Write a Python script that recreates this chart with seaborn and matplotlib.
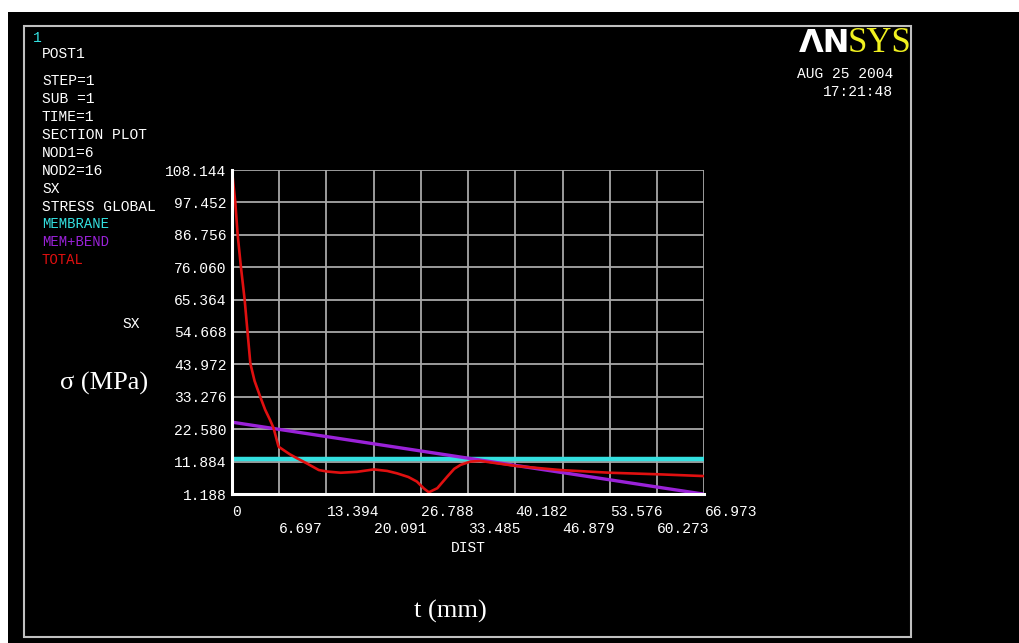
import numpy as np
import pandas as pd
import matplotlib
matplotlib.use("Agg")
import matplotlib.pyplot as plt
import seaborn as sns
from matplotlib.patches import Rectangle

# --- data ---
dist_ticks = [0, 6.697, 13.394, 20.091, 26.788, 33.485, 40.182, 46.879, 53.576, 60.273, 66.973]
sx_ticks = [1.188, 11.884, 22.580, 33.276, 43.972, 54.668, 65.364, 76.060, 86.756, 97.452, 108.144]

membrane_dist = [0, 66.973]
membrane_sx = [12.9, 12.9]

bend_dist = [0, 66.973]
bend_sx = [24.9, 1.1]

total_dist = [0, 0.47, 0.8, 1.27, 1.79, 2.2, 2.6, 3.2, 4.0, 4.7, 5.4, 5.9, 6.6, 7.3, 8.2,
              9.2, 10.6, 12.3, 13.5, 15.4, 17.7, 20.1, 22.0, 23.4, 25.0, 26.2, 27.2, 27.9,
              29.1, 30.5, 31.5, 32.4, 33.8, 35.2, 40.4, 46.5, 53.6, 60.3, 66.973]
total_sx = [108.0, 97.4, 86.8, 76.0, 65.4, 54.7, 44.3, 38.5, 33.3, 29.0, 25.6, 22.9, 16.8, 15.7, 14.3,
            13.0, 11.3, 9.1, 8.6, 8.2, 8.5, 9.3, 8.8, 8.0, 6.8, 5.3, 3.0, 1.75,
            3.1, 6.9, 9.5, 10.8, 11.9, 12.1, 10.4, 9.1, 8.2, 7.7, 7.1]

header_lines = ["STEP=1", "SUB =1", "TIME=1", "SECTION PLOT", "NOD1=6", "NOD2=16", "SX", "STRESS GLOBAL"]
legend_names = ["MEMBRANE", "MEM+BEND", "TOTAL"]

W, H = 1020, 643
CYAN = "#33e0e0"
PURPLE = "#9a22d8"
RED = "#e01010"
GRID = "#a8a8a8"


def px(x, y):
    # pixel coords (origin top-left) -> figure fraction
    return x / W, 1 - y / H


sns.set_style("dark")
plt.rcParams["font.family"] = ["Liberation Mono", "DejaVu Sans Mono"]
MONO = 10.5

fig = plt.figure(figsize=(W / 100, H / 100), dpi=100, facecolor="white")

# black screen area and the gray ANSYS window frame
fig.patches.append(Rectangle(px(8, 643), (W - 8) / W, (643 - 12) / H,
                             transform=fig.transFigure, facecolor="black", edgecolor="none", zorder=0))
fig.patches.append(Rectangle(px(24, 637), (911 - 24) / W, (637 - 26) / H,
                             transform=fig.transFigure, facecolor="none", edgecolor="#c0c0c0",
                             linewidth=1.5, zorder=1))

left, right, top, bottom = 232, 704.5, 170, 494
ax = fig.add_axes([left / W, 1 - bottom / H, (right - left) / W, (bottom - top) / H])
ax.set_zorder(2)
ax.set_facecolor("black")

df_mem = pd.DataFrame({"DIST": membrane_dist, "SX": membrane_sx})
df_bend = pd.DataFrame({"DIST": bend_dist, "SX": bend_sx})
df_tot = pd.DataFrame({"DIST": total_dist, "SX": total_sx})

sns.lineplot(data=df_mem, x="DIST", y="SX", color=CYAN, linewidth=3.2, ax=ax, zorder=3)
sns.lineplot(data=df_bend, x="DIST", y="SX", color=PURPLE, linewidth=2.4, ax=ax, zorder=4)
sns.lineplot(data=df_tot, x="DIST", y="SX", color=RED, linewidth=1.9, ax=ax, zorder=5, sort=False)

ax.set_xlim(dist_ticks[0], dist_ticks[-1])
ax.set_ylim(sx_ticks[0], sx_ticks[-1])
ax.set_xticks(dist_ticks)
ax.set_xticklabels(["0" if v == 0 else f"{v:.3f}" for v in dist_ticks], ha="left")
ax.set_yticks(sx_ticks)
ax.set_yticklabels([f"{v:.3f}" for v in sx_ticks])
ax.set_xlabel("")
ax.set_ylabel("")

ax.grid(True, color=GRID, linewidth=1.3)
ax.set_axisbelow(True)
for side in ["top", "right"]:
    ax.spines[side].set_visible(False)
for side in ["left", "bottom"]:
    ax.spines[side].set_visible(True)
    ax.spines[side].set_color("white")
    ax.spines[side].set_linewidth(2.2)
    ax.spines[side].set_zorder(6)

ax.tick_params(axis="both", colors="white", labelcolor="white", labelsize=MONO,
               length=3, width=1, direction="out")
ax.tick_params(axis="y", pad=1)
# staggered DIST labels like ANSYS prints them
for i, tick in enumerate(ax.xaxis.get_major_ticks()):
    tick.set_pad(5 if i % 2 == 0 else 17)

# header text block
fig.text(*px(33, 38), "1", color=CYAN, fontsize=MONO, va="center")
fig.text(*px(42, 54), "POST1", color="white", fontsize=MONO, va="center")
for i, line in enumerate(header_lines):
    fig.text(*px(42, 81 + 18 * i), line, color="white", fontsize=MONO, va="center")
for i, (name, col) in enumerate(zip(legend_names, [CYAN, PURPLE, RED])):
    fig.text(*px(42, 224 + 18 * i), name, color=col, fontsize=MONO - 0.5, va="center")

fig.text(*px(131, 324), "SX", color="white", fontsize=MONO, va="center", ha="center")
fig.text(*px(468, 548), "DIST", color="white", fontsize=MONO, va="center", ha="center")

# logo and time stamp
fig.text(*px(850, 43), "ΛN", color="white", fontsize=23, fontweight="bold",
         family="DejaVu Sans", va="center", ha="right")
fig.text(*px(848, 43), "SYS", color="#f0f020", fontsize=25,
         family="Liberation Serif", va="center", ha="left")
fig.text(*px(893, 74), "AUG 25 2004", color="white", fontsize=MONO, va="center", ha="right")
fig.text(*px(893, 92), "17:21:48", color="white", fontsize=MONO, va="center", ha="right")

# added axis captions
fig.text(*px(104, 383), "σ (MPa)", color="white", fontsize=19, family="Liberation Serif",
         va="center", ha="center")
fig.text(*px(450, 611), "t (mm)", color="white", fontsize=19, family="Liberation Serif",
         va="center", ha="center")

fig.savefig("out.png", dpi=100, facecolor="white")
